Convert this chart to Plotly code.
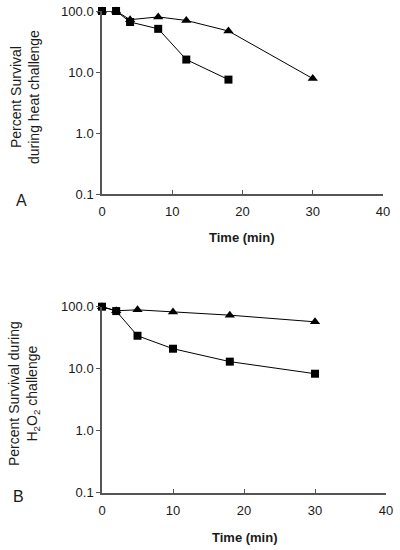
import plotly.graph_objects as go

# Panel A: heat challenge
time_A_sq = [0, 2, 4, 8, 12, 18]
surv_A_sq = [100, 100, 66, 51, 16, 7.5]
time_A_tri = [0, 2, 4, 8, 12, 18, 30]
surv_A_tri = [100, 100, 72, 80, 70, 47, 7.8]

# Panel B: H2O2 challenge
time_B_sq = [0, 2, 5, 10, 18, 30]
surv_B_sq = [100, 85, 34, 21, 13, 8.3]
time_B_tri = [0, 2, 5, 10, 18, 30]
surv_B_tri = [100, 86, 89, 82, 73, 57]

y_tickvals = [0.1, 1, 10, 100]
y_ticktext = ["0.1", "1.0", "10.0", "100.0"]
x_tickvals = [0, 10, 20, 30, 40]
x_ticktext = ["0", "10", "20", "30", "40"]

FONT = "Liberation Sans, Arial, sans-serif"
AX_COLOR = "#555555"
TXT = "#1a1a1a"

W, H = 400, 550

def px_x(px):
    return px / W

def px_y(py):
    return 1 - py / H

fig = go.Figure()

def add_series(x, y, symbol, xa, ya, size):
    fig.add_trace(go.Scatter(
        x=x, y=y, mode="lines+markers", xaxis=xa, yaxis=ya,
        line=dict(color="black", width=1),
        marker=dict(symbol=symbol, size=size, color="black"),
        cliponaxis=False, showlegend=False, hoverinfo="skip",
    ))

# triangles first so squares draw on top
add_series(time_A_tri, surv_A_tri, "triangle-up", "x", "y", 9)
add_series(time_A_sq, surv_A_sq, "square", "x", "y", 8)
add_series(time_B_tri, surv_B_tri, "triangle-up", "x2", "y2", 9)
add_series(time_B_sq, surv_B_sq, "square", "x2", "y2", 8)

xax = dict(range=[0, 40], tickvals=x_tickvals, ticktext=x_ticktext,
           ticks="inside", ticklen=4, tickwidth=1, tickcolor=AX_COLOR,
           showline=True, linecolor=AX_COLOR, linewidth=1.5,
           showgrid=False, zeroline=False, ticklabelstandoff=5,
           tickfont=dict(family=FONT, size=13, color=TXT))
yax = dict(type="log", range=[-1, 2], tickvals=y_tickvals, ticktext=y_ticktext,
           ticks="outside", ticklen=4, tickwidth=1, tickcolor=AX_COLOR,
           showline=True, linecolor=AX_COLOR, linewidth=1.5,
           showgrid=False, zeroline=False,
           tickfont=dict(family=FONT, size=13, color=TXT))

fig.update_layout(
    width=W, height=H,
    margin=dict(l=0, r=0, t=0, b=0),
    paper_bgcolor="white", plot_bgcolor="white",
    template="none",
    xaxis=dict(xax, domain=[px_x(102), px_x(383)], anchor="y"),
    yaxis=dict(yax, domain=[px_y(194), px_y(11)], anchor="x"),
    xaxis2=dict(xax, domain=[px_x(102), px_x(386)], anchor="y2"),
    yaxis2=dict(yax, domain=[px_y(492.7), px_y(306.7)], anchor="x2"),
)

ann = [
    dict(text="Percent Survival<br>during heat challenge", x=25, y=97, textangle=-90,
         font=dict(size=14, family=FONT, color=TXT)),
    dict(text="A", x=21, y=200, font=dict(size=16, family=FONT, color=TXT)),
    dict(text="<b>Time (min)</b>", x=242, y=237, font=dict(size=13, family=FONT, color=TXT)),
    dict(text="Percent Survival during<br>H<sub>2</sub>O<sub>2</sub> challenge", x=24, y=394,
         textangle=-90, font=dict(size=14, family=FONT, color=TXT)),
    dict(text="B", x=18, y=496, font=dict(size=16, family=FONT, color=TXT)),
    dict(text="<b>Time (min)</b>", x=245, y=537, font=dict(size=13, family=FONT, color=TXT)),
]
for a in ann:
    fig.add_annotation(text=a["text"], x=px_x(a["x"]), y=px_y(a["y"]),
                       xref="paper", yref="paper", showarrow=False,
                       xanchor="center", yanchor="middle",
                       textangle=a.get("textangle", 0), font=a["font"])

fig.write_html("out.html", config={"displayModeBar": False},
               post_script="document.body.style.margin='0';")
